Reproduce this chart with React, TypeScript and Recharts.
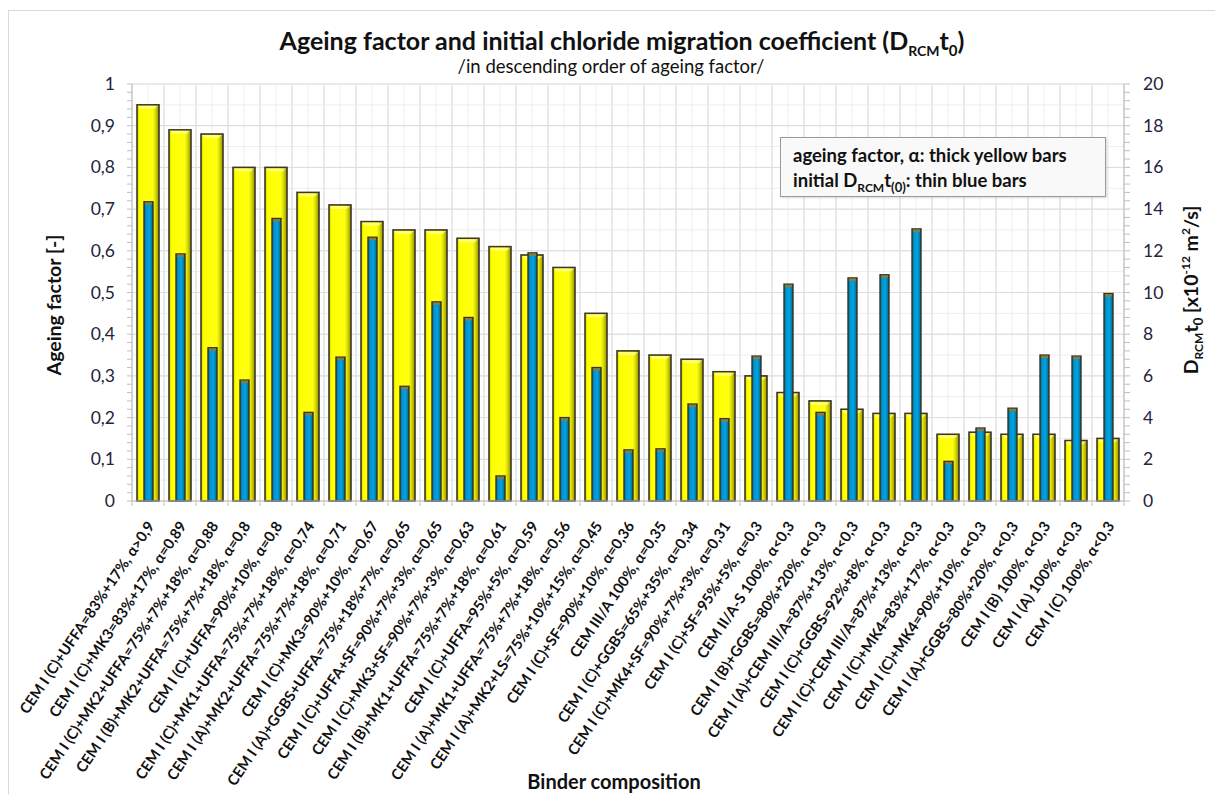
import { BarChart, Bar, XAxis, YAxis, CartesianGrid } from 'recharts';

// binder mixes, sorted by ageing factor (descending)
const binders = [
  'CEM I (C)+UFFA=83%+17%,  α>0,9',
  'CEM I (C)+MK3=83%+17%,  α=0,89',
  'CEM I (C)+MK2+UFFA=75%+7%+18%,  α=0,88',
  'CEM I (B)+MK2+UFFA=75%+7%+18%,  α=0,8',
  'CEM I (C)+UFFA=90%+10%,  α=0,8',
  'CEM I (C)+MK1+UFFA=75%+7%+18%,  α=0,74',
  'CEM I (A)+MK2+UFFA=75%+7%+18%,  α=0,71',
  'CEM I (C)+MK3=90%+10%,  α=0,67',
  'CEM I (A)+GGBS+UFFA=75%+18%+7%,  α=0,65',
  'CEM I (C)+UFFA+SF=90%+7%+3%,  α=0,65',
  'CEM I (C)+MK3+SF=90%+7%+3%,  α=0,63',
  'CEM I (B)+MK1+UFFA=75%+7%+18%,  α=0,61',
  'CEM I (C)+UFFA=95%+5%,  α=0,59',
  'CEM I (A)+MK1+UFFA=75%+7%+18%,  α=0,56',
  'CEM I (A)+MK2+LS=75%+10%+15%,  α=0,45',
  'CEM I (C)+SF=90%+10%,  α=0,36',
  'CEM III/A 100%,  α=0,35',
  'CEM I (C)+GGBS=65%+35%,  α=0,34',
  'CEM I (C)+MK4+SF=90%+7%+3%,  α=0,31',
  'CEM I (C)+SF=95%+5%,  α=0,3',
  'CEM II/A-S 100%,  α<0,3',
  'CEM I (B)+GGBS=80%+20%,  α<0,3',
  'CEM I (A)+CEM III/A=87%+13%,  α<0,3',
  'CEM I (C)+GGBS=92%+8%,  α<0,3',
  'CEM I (C)+CEM III/A=87%+13%,  α<0,3',
  'CEM I (C)+MK4=83%+17%,  α<0,3',
  'CEM I (C)+MK4=90%+10%,  α<0,3',
  'CEM I (A)+GGBS=80%+20%,  α<0,3',
  'CEM I (B) 100%,  α<0,3',
  'CEM I (A) 100%,  α<0,3',
  'CEM I (C) 100%,  α<0,3',
];

// ageing factor α [-]
const ageingFactor = [
  0.95, 0.89, 0.88, 0.8, 0.8, 0.74, 0.71, 0.67, 0.65, 0.65, 0.63, 0.61, 0.59, 0.56, 0.45, 0.36,
  0.35, 0.34, 0.31, 0.3, 0.26, 0.24, 0.22, 0.21, 0.21, 0.16, 0.165, 0.16, 0.16, 0.145, 0.15,
];

// initial D_RCM t0 [x10^-12 m2/s]
const dRcm0 = [
  14.35, 11.85, 7.35, 5.8, 13.55, 4.25, 6.9, 12.65, 5.5, 9.55, 8.8, 1.2, 11.9, 4.0, 6.4, 2.45,
  2.5, 4.65, 3.95, 6.95, 10.4, 4.25, 10.7, 10.85, 13.05, 1.9, 3.5, 4.45, 7.0, 6.95, 9.95,
];

const leftTicks = [0, 0.1, 0.2, 0.3, 0.4, 0.5, 0.6, 0.7, 0.8, 0.9, 1];
const rightTicks = [0, 2, 4, 6, 8, 10, 12, 14, 16, 18, 20];

// minor tick marks between the labelled ones
const leftMinor = Array.from({ length: 51 }, (_, i) => +(i * 0.02).toFixed(2));
const rightMinor = Array.from({ length: 51 }, (_, i) => +(i * 0.4).toFixed(1));

const data = binders.map((name, i) => ({ name, alpha: ageingFactor[i], drcm: dRcm0[i] }));

const FONT = 'Lato, "Open Sans", sans-serif';
const TICK_COLOR = '#23233d';
const AXIS_COLOR = '#bfbfbf';

const near = (a: number, list: number[]) => list.some((t) => Math.abs(t - a) < 1e-6);
const fmt = (v: number) => String(v).replace('.', ',');

function LeftTick({ x, y, payload }: any) {
  const v = payload.value;
  return (
    <g>
      <line x1={x - 5} x2={x} y1={y} y2={y} stroke={AXIS_COLOR} />
      {near(v, leftTicks) && (
        <text x={x - 17} y={y} dy={6} textAnchor="end" fontSize={17.5} fill={TICK_COLOR} fontFamily={FONT}>
          {fmt(v)}
        </text>
      )}
    </g>
  );
}

function RightTick({ x, y, payload }: any) {
  const v = payload.value;
  return (
    <g>
      <line x1={x} x2={x + 6} y1={y} y2={y} stroke={AXIS_COLOR} />
      {near(v, rightTicks) && (
        <text x={x + 19} y={y} dy={6} textAnchor="start" fontSize={17.5} fill={TICK_COLOR} fontFamily={FONT}>
          {v}
        </text>
      )}
    </g>
  );
}

function BinderTick({ x, y, payload, index }: any) {
  const half = 16;
  const ax = x + 7;
  const ay = y + 25;
  return (
    <g>
      <line x1={x - half} x2={x - half} y1={y} y2={y + 5} stroke={AXIS_COLOR} />
      {index === binders.length - 1 && (
        <line x1={x + half} x2={x + half} y1={y} y2={y + 5} stroke={AXIS_COLOR} />
      )}
      <text
        x={ax}
        y={ay}
        transform={`rotate(-56 ${ax} ${ay})`}
        textAnchor="end"
        fontSize={14.8}
        fontWeight={700}
        fill="#111"
        fontFamily={FONT}
      >
        {payload.value}
      </text>
    </g>
  );
}

function YellowBar({ x, y, width, height }: any) {
  if (!height || height <= 0) return null;
  return (
    <g>
      <rect x={x} y={y} width={width} height={height} fill="url(#yellowBody)" stroke="#3b3826" strokeWidth={1.6} />
      <polygon
        points={`${x + 1},${y + 1} ${x + width - 1},${y + 1} ${x + width - 4},${y + 4} ${x + 3},${y + 4}`}
        fill="#ffff9e"
        opacity={0.7}
      />
    </g>
  );
}

function BlueBar({ x, y, width, height }: any) {
  if (!height || height <= 0) return null;
  return (
    <g>
      <rect x={x} y={y} width={width} height={height} fill="url(#blueBody)" stroke="#3a3420" strokeWidth={1.4} />
      <rect x={x + 1} y={y + 0.5} width={width - 2} height={2.5} fill="#8c7a3c" />
    </g>
  );
}

// grid: faint lines every 0.05 / half category, stronger every 0.1 / category
const minorH = ({ offset }: any) => Array.from({ length: 21 }, (_, i) => offset.top + (offset.height * i) / 20);
const majorH = ({ offset }: any) => Array.from({ length: 11 }, (_, i) => offset.top + (offset.height * i) / 10);
const minorV = ({ offset }: any) =>
  Array.from({ length: binders.length * 2 + 1 }, (_, i) => offset.left + (offset.width * i) / (binders.length * 2));
const majorV = ({ offset }: any) =>
  Array.from({ length: binders.length + 1 }, (_, i) => offset.left + (offset.width * i) / binders.length);

export default function App() {
  return (
    <div
      style={{
        position: 'absolute',
        left: 0,
        top: 0,
        width: 1215,
        height: 794,
        overflow: 'hidden',
        background: '#fff',
        fontFamily: FONT,
        color: '#111',
      }}
    >
      <div
        style={{
          position: 'absolute',
          left: 8,
          top: 10,
          width: 1300,
          height: 900,
          border: '1px solid #d9d9d9',
        }}
      />
      <BarChart
        width={1215}
        height={794}
        data={data}
        margin={{ top: 84, right: 31, bottom: 13, left: 72 }}
        style={{ position: 'absolute', left: 0, top: 0 }}
      >
        <defs>
          <linearGradient id="yellowBody" x1="0" x2="1" y1="0" y2="0">
            <stop offset="0" stopColor="#cfcf00" />
            <stop offset="0.12" stopColor="#ffff00" />
            <stop offset="0.72" stopColor="#ffff10" />
            <stop offset="0.86" stopColor="#d2d200" />
            <stop offset="1" stopColor="#8f8f00" />
          </linearGradient>
          <linearGradient id="blueBody" x1="0" x2="1" y1="0" y2="0">
            <stop offset="0" stopColor="#005f8c" />
            <stop offset="0.25" stopColor="#0098d2" />
            <stop offset="0.65" stopColor="#00a2de" />
            <stop offset="1" stopColor="#00557e" />
          </linearGradient>
        </defs>
        <CartesianGrid
          xAxisId="alpha"
          yAxisId="left"
          stroke="#eeeeee"
          horizontalCoordinatesGenerator={minorH}
          verticalCoordinatesGenerator={minorV}
        />
        <CartesianGrid
          xAxisId="alpha"
          yAxisId="left"
          stroke="#dcdcdc"
          horizontalCoordinatesGenerator={majorH}
          verticalCoordinatesGenerator={majorV}
        />
        <XAxis
          xAxisId="alpha"
          dataKey="name"
          interval={0}
          height={280}
          tickSize={0}
          tickMargin={0}
          tickLine={false}
          stroke={AXIS_COLOR}
          tick={<BinderTick />}
        />
        <XAxis xAxisId="drcm" dataKey="name" hide />
        <YAxis
          yAxisId="left"
          domain={[0, 1]}
          ticks={leftMinor}
          interval={0}
          width={60}
          tickSize={0}
          tickMargin={0}
          tickLine={false}
          stroke={AXIS_COLOR}
          tick={<LeftTick />}
        />
        <YAxis
          yAxisId="right"
          orientation="right"
          domain={[0, 20]}
          ticks={rightMinor}
          interval={0}
          width={60}
          tickSize={0}
          tickMargin={0}
          tickLine={false}
          stroke={AXIS_COLOR}
          tick={<RightTick />}
        />
        <Bar
          xAxisId="alpha"
          yAxisId="left"
          dataKey="alpha"
          barSize={22}
          shape={<YellowBar />}
          isAnimationActive={false}
        />
        <Bar
          xAxisId="drcm"
          yAxisId="right"
          dataKey="drcm"
          barSize={9}
          shape={<BlueBar />}
          isAnimationActive={false}
        />
      </BarChart>

      {/* title */}
      <div
        style={{
          position: 'absolute',
          left: 0,
          width: 1244,
          top: 25,
          textAlign: 'center',
          fontSize: 25,
          fontWeight: 700,
          lineHeight: '30px',
          whiteSpace: 'nowrap',
        }}
      >
        Ageing factor and initial chloride migration coefficient (D<sub style={{ fontSize: 14 }}>RCM</sub>t
        <sub style={{ fontSize: 15 }}>0</sub>)
      </div>
      <div
        style={{
          position: 'absolute',
          left: 0,
          width: 1222,
          top: 55,
          textAlign: 'center',
          fontSize: 18.5,
          lineHeight: '22px',
          whiteSpace: 'nowrap',
        }}
      >
        /in descending order of ageing factor/
      </div>

      {/* left axis title */}
      <div
        style={{
          position: 'absolute',
          left: 53,
          top: 305,
          transform: 'translate(-50%, -50%) rotate(-90deg)',
          fontSize: 19.5,
          fontWeight: 700,
          whiteSpace: 'nowrap',
        }}
      >
        Ageing factor [-]
      </div>

      {/* right axis title */}
      <div
        style={{
          position: 'absolute',
          left: 1192,
          top: 290,
          transform: 'translate(-50%, -50%) rotate(-90deg)',
          fontSize: 19.5,
          fontWeight: 700,
          whiteSpace: 'nowrap',
        }}
      >
        D<sub style={{ fontSize: 12 }}>RCM</sub>t<sub style={{ fontSize: 13 }}>0</sub> [x10
        <sup style={{ fontSize: 12 }}>-12</sup> m<sup style={{ fontSize: 12 }}>2</sup>/s]
      </div>

      {/* x axis title */}
      <div
        style={{
          position: 'absolute',
          left: 614,
          top: 781,
          transform: 'translate(-50%, -50%)',
          fontSize: 20,
          fontWeight: 700,
          lineHeight: '22px',
          whiteSpace: 'nowrap',
        }}
      >
        Binder composition
      </div>

      {/* key box */}
      <div
        style={{
          position: 'absolute',
          left: 780,
          top: 137,
          width: 326,
          height: 60,
          boxSizing: 'border-box',
          border: '1px solid #9a9a9a',
          background: '#f9f9f9',
          boxShadow: '1px 1px 2px rgba(0,0,0,0.15)',
          padding: '5px 0 0 12px',
          fontSize: 18.5,
          fontWeight: 700,
          lineHeight: '25px',
          whiteSpace: 'nowrap',
        }}
      >
        <div>ageing factor, α: thick yellow bars</div>
        <div>
          initial D<sub style={{ fontSize: 12, lineHeight: 0 }}>RCM</sub>t<sub style={{ fontSize: 13, lineHeight: 0 }}>(0)</sub>
          : thin blue bars
        </div>
      </div>
    </div>
  );
}
